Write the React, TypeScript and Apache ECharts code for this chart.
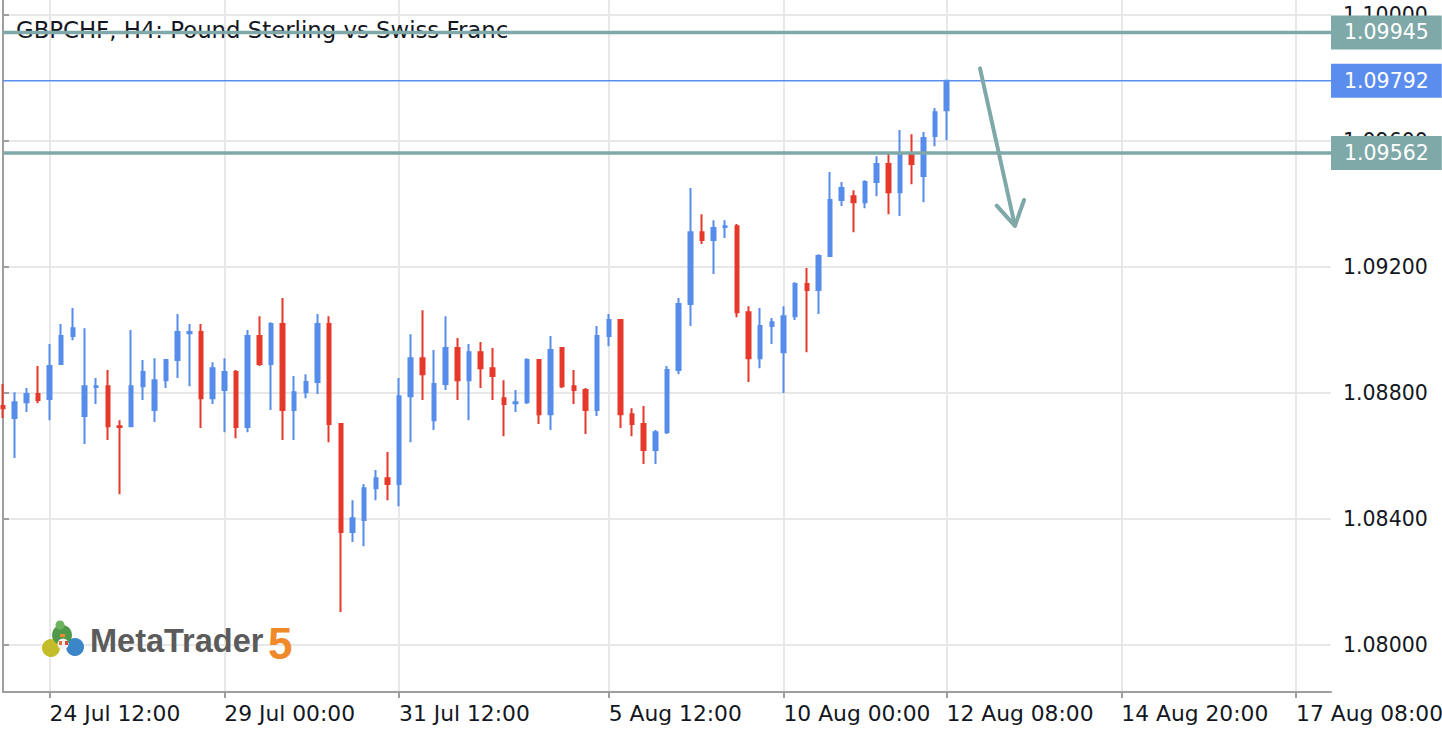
import React, { useEffect, useRef } from "react";
import * as echarts from "echarts";

// H4 candles, 23 Jul 20:00 .. 12 Aug 08:00
const opens = [
  1.08759, 1.08721, 1.08771, 1.08797, 1.08781, 1.08892, 1.08981, 1.08727, 1.08819, 1.08822,
  1.08695, 1.08695, 1.08822, 1.08746, 1.08841, 1.08905, 1.0899, 1.08994, 1.08784, 1.0881,
  1.08867, 1.08692, 1.08981, 1.08892, 1.09019, 1.08746, 1.08803, 1.08835, 1.09019, 1.08702,
  1.08359, 1.08397, 1.08498, 1.0853, 1.08511, 1.0879, 1.08911, 1.08714, 1.08829, 1.08943,
  1.08841, 1.0893, 1.08879, 1.08784, 1.08768, 1.08771, 1.08905, 1.08733, 1.08943, 1.08822,
  1.0881, 1.08746, 1.08981, 1.09032, 1.08733, 1.08702, 1.08619, 1.08676, 1.08873, 1.09083,
  1.09311, 1.09286, 1.09327, 1.0933, 1.09057, 1.08911, 1.09013, 1.0893, 1.09044, 1.09146,
  1.09127, 1.09235, 1.09413, 1.09425, 1.09406, 1.0947, 1.09527, 1.09438, 1.09559, 1.09489,
  1.09616, 1.09698,
];
const closes = [
  1.08752, 1.08771, 1.08797, 1.08778, 1.08886, 1.08981, 1.09006, 1.08822, 1.08822, 1.08695,
  1.08692, 1.08822, 1.08867, 1.08841, 1.08905, 1.08994, 1.08994, 1.08784, 1.08879, 1.08867,
  1.08692, 1.08981, 1.08892, 1.09019, 1.08746, 1.08803, 1.08835, 1.09019, 1.08702, 1.08359,
  1.08403, 1.08498, 1.0853, 1.08511, 1.0879, 1.08911, 1.0886, 1.08829, 1.08943, 1.08841,
  1.0893, 1.08879, 1.08854, 1.08765, 1.08771, 1.08905, 1.08733, 1.08937, 1.08822, 1.0881,
  1.08746, 1.08981, 1.09032, 1.08733, 1.08702, 1.08619, 1.08676, 1.08873, 1.09083, 1.09311,
  1.09286, 1.09324, 1.0933, 1.09057, 1.08911, 1.09013, 1.09025, 1.09044, 1.09146, 1.09127,
  1.09235, 1.09413, 1.09451, 1.09406, 1.0947, 1.09527, 1.09438, 1.09559, 1.09527, 1.0961,
  1.09692, 1.09792,
];
const lows = [
  1.08721, 1.08594, 1.0874, 1.08768, 1.08714, 1.08892, 1.08968, 1.08638, 1.08765, 1.08651,
  1.08479, 1.08695, 1.08778, 1.08708, 1.08816, 1.08848, 1.08822, 1.08689, 1.08765, 1.08676,
  1.08657, 1.08676, 1.08886, 1.08746, 1.08651, 1.08651, 1.08784, 1.08797, 1.08644, 1.08105,
  1.08327, 1.08314, 1.0846, 1.0846, 1.08441, 1.08644, 1.08778, 1.08683, 1.0881, 1.08778,
  1.08714, 1.08816, 1.08778, 1.08663, 1.0874, 1.08765, 1.08702, 1.08683, 1.08816, 1.08765,
  1.0867, 1.08727, 1.08949, 1.08689, 1.08663, 1.08575, 1.08575, 1.0867, 1.0886, 1.09013,
  1.09273, 1.09178, 1.09292, 1.09041, 1.08835, 1.08879, 1.08956, 1.088, 1.09032, 1.0893,
  1.09051, 1.09235, 1.09394, 1.09311, 1.09387, 1.09425, 1.09368, 1.09362, 1.09463, 1.09406,
  1.09584, 1.09603,
];
const highs = [
  1.08829, 1.08803, 1.08816, 1.08886, 1.08956, 1.09019, 1.0907, 1.09006, 1.08848, 1.08873,
  1.08714, 1.09, 1.08905, 1.08911, 1.08908, 1.09051, 1.09019, 1.09019, 1.08898, 1.08911,
  1.08873, 1.09, 1.09044, 1.09025, 1.09102, 1.08854, 1.0886, 1.09051, 1.09044, 1.08702,
  1.0846, 1.08511, 1.08556, 1.08613, 1.08848, 1.08987, 1.09063, 1.08937, 1.09044, 1.08975,
  1.08956, 1.08962, 1.08943, 1.08841, 1.0881, 1.08911, 1.08905, 1.08981, 1.08943, 1.08873,
  1.08816, 1.09013, 1.09051, 1.09032, 1.08752, 1.08759, 1.08683, 1.08886, 1.09102, 1.09451,
  1.09368, 1.09349, 1.09349, 1.09337, 1.09076, 1.0907, 1.09038, 1.09076, 1.09152, 1.09197,
  1.09241, 1.09502, 1.0947, 1.09444, 1.09476, 1.09552, 1.09559, 1.09635, 1.09622, 1.09629,
  1.09705, 1.09794,
];

const slotCount = 115; // bars shown incl. empty future space
const tickIndex = [4, 19, 34, 52, 67, 81, 96, 111];
const tickLabels = [
  "24 Jul 12:00",
  "29 Jul 00:00",
  "31 Jul 12:00",
  "5 Aug 12:00",
  "10 Aug 00:00",
  "12 Aug 08:00",
  "14 Aug 20:00",
  "17 Aug 08:00",
];
const priceTicks = [1.08, 1.084, 1.088, 1.092, 1.096, 1.1];

const levelValues = [1.09945, 1.09792, 1.09562];
const levelColors = ["#7fa8a8", "#5b8def", "#7fa8a8"];
const levelWidths = [3.5, 1.5, 3.5];

// drawn arrow (bar index, price)
const arrowShaft = [
  [83.87, 1.09831],
  [86.87, 1.09331],
];
const arrowHead = [
  [85.3, 1.09395],
  [86.87, 1.09331],
  [87.65, 1.09413],
];

const UP = "#568cea";
const DOWN = "#e5392b";
const TEAL = "#7fa8a8";
const FONT = "DejaVu Sans";

const App: React.FC = () => {
  const chartRef = useRef<HTMLDivElement | null>(null);

  useEffect(() => {
    const dom = chartRef.current;
    if (!dom) return;
    const chart = echarts.init(dom, undefined, { renderer: "svg" });

    const categories = Array.from({ length: slotCount }, (_, i) => String(i));
    const candles = opens.map((o, i) => [o, closes[i], lows[i], highs[i]]);
    const isTick = (index: number) => tickIndex.includes(index);

    const levelSeries = levelValues.map((v, i) => ({
      type: "line",
      xAxisIndex: 1,
      data: [
        [0, v],
        [slotCount - 1, v],
      ],
      symbol: "none",
      silent: true,
      z: 3,
      lineStyle: { color: levelColors[i], width: levelWidths[i] },
      endLabel: {
        show: true,
        formatter: v.toFixed(5),
        distance: 0,
        color: "#ffffff",
        fontSize: 20.5,
        fontFamily: FONT,
        lineHeight: 22,
        backgroundColor: levelColors[i],
        padding: [6, 13, 6, 13],
      },
    }));

    const logoZ = 10;

    const option = {
      animation: false,
      backgroundColor: "#ffffff",
      grid: { left: 3, right: 111, top: 0, bottom: 48, containLabel: false, outerBoundsMode: "none" },
      xAxis: [
        {
          type: "category",
          data: categories,
          boundaryGap: false,
          axisLine: { show: true, lineStyle: { color: "#9e9e9e", width: 2 } },
          axisTick: { show: true, interval: isTick, length: 6, lineStyle: { color: "#9e9e9e", width: 2 } },
          axisLabel: {
            interval: isTick,
            align: "left",
            margin: 10,
            fontSize: 21.8,
            fontFamily: FONT,
            color: "#131722",
            formatter: (_v: string, index: number) => tickLabels[tickIndex.indexOf(index)] ?? "",
          },
          splitLine: { show: true, interval: isTick, lineStyle: { color: "#e8e8e8", width: 2 } },
        },
        { type: "value", min: 0, max: slotCount - 1, show: false },
      ],
      yAxis: {
        type: "value",
        position: "right",
        min: 1.07851,
        max: 1.10048,
        scale: true,
        axisLine: { show: true, lineStyle: { color: "#9e9e9e", width: 2 } },
        axisTick: { show: true, customValues: priceTicks, length: 6, lineStyle: { color: "#9e9e9e", width: 2 } },
        axisLabel: {
          customValues: priceTicks,
          margin: 12,
          fontSize: 20.5,
          fontFamily: FONT,
          color: "#131722",
          formatter: (v: number) => v.toFixed(5),
        },
        splitLine: { show: true, lineStyle: { color: "#e8e8e8", width: 2 } },
      },
      series: [
        {
          type: "candlestick",
          data: candles,
          barWidth: 4,
          clip: false,
          itemStyle: {
            color: UP,
            color0: DOWN,
            borderColor: UP,
            borderColor0: DOWN,
            borderWidth: 2,
          },
        },
        ...levelSeries,
        {
          type: "line",
          xAxisIndex: 1,
          data: arrowShaft,
          symbol: "none",
          silent: true,
          z: 5,
          lineStyle: { color: TEAL, width: 4, cap: "round" },
        },
        {
          type: "line",
          xAxisIndex: 1,
          data: arrowHead,
          symbol: "none",
          silent: true,
          z: 5,
          lineStyle: { color: TEAL, width: 4, cap: "round", join: "round" },
        },
      ],
      graphic: [
        {
          type: "text",
          left: 16,
          top: 18,
          z: 1,
          style: {
            text: "GBPCHF, H4: Pound Sterling vs Swiss Franc",
            fontSize: 22.8,
            fontFamily: FONT,
            fill: "#131722",
          },
        },
        // MetaTrader 5 logo
        { type: "circle", z: logoZ, shape: { cx: 51, cy: 648, r: 9 }, style: { fill: "#c3bd2a" } },
        { type: "circle", z: logoZ, shape: { cx: 75, cy: 647, r: 9 }, style: { fill: "#3a86c8" } },
        { type: "circle", z: logoZ, shape: { cx: 62, cy: 635, r: 10 }, style: { fill: "#4f9a4a" } },
        { type: "circle", z: logoZ, shape: { cx: 60, cy: 625, r: 4.5 }, style: { fill: "#6cb25f" } },
        { type: "circle", z: logoZ, shape: { cx: 63, cy: 644, r: 5.5 }, style: { fill: "#f2f2f2" } },
        { type: "rect", z: logoZ, shape: { x: 59, y: 641, width: 3, height: 4 }, style: { fill: "#e0703a" } },
        { type: "rect", z: logoZ, shape: { x: 65, y: 641, width: 3, height: 4 }, style: { fill: "#d84b3a" } },
        { type: "rect", z: logoZ, shape: { x: 60, y: 634, width: 5, height: 3 }, style: { fill: "#f08a2a" } },
        {
          type: "text",
          z: logoZ,
          x: 90,
          y: 641,
          style: {
            text: "MetaTrader",
            fontSize: 32.5,
            fontWeight: "bold",
            fontFamily: "Liberation Sans",
            fill: "#5b5b5b",
            verticalAlign: "middle",
          },
        },
        {
          type: "text",
          z: logoZ,
          x: 268,
          y: 643,
          style: {
            text: "5",
            fontSize: 44,
            fontWeight: "bold",
            fontFamily: "Liberation Sans",
            fill: "#f0892a",
            verticalAlign: "middle",
          },
        },
      ],
    };

    chart.setOption(option as any);

    return () => {
      chart.dispose();
    };
  }, []);

  return (
    <div
      style={{
        position: "fixed",
        top: 0,
        left: 0,
        width: 1442,
        height: 740,
        background: "#ffffff",
      }}
    >
      <div ref={chartRef} style={{ width: "100%", height: "100%" }} />
    </div>
  );
};

export default App;
